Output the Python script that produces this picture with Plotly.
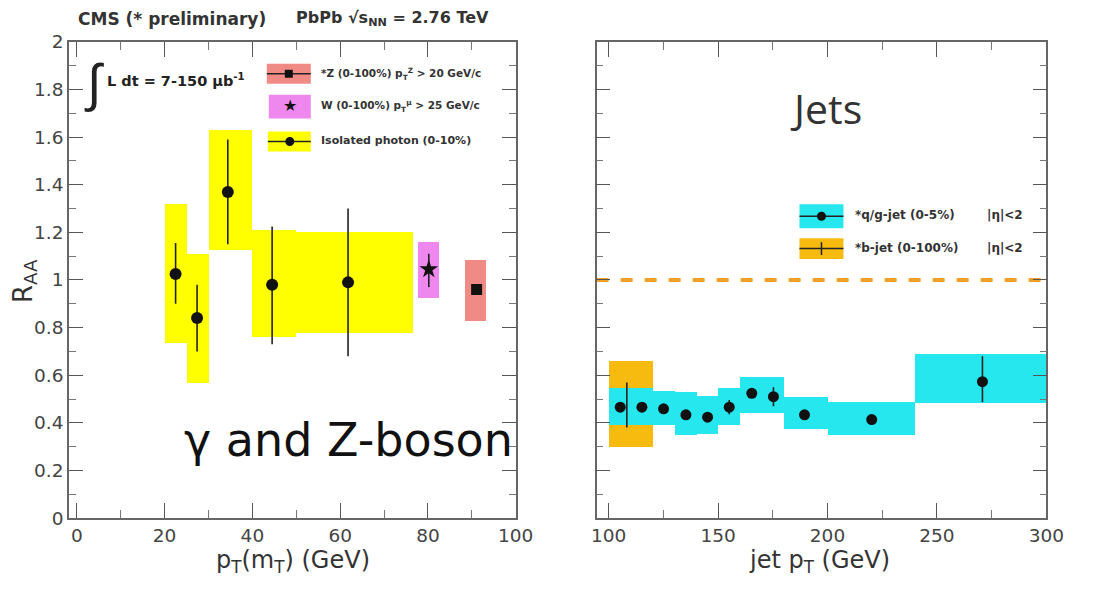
import plotly.graph_objects as go
import numpy as np

W, H = 1115, 590
# measured mapping from figure pixels to photographed pixels (p = A + S * f)
SX, AX = 0.98, 6.0
SY, AY = 0.968, 9.0

# ---------------- data: left panel ----------------
photon_x = [22.5, 27.4, 34.4, 44.5, 61.8]
photon_y = [1.025, 0.84, 1.37, 0.98, 0.99]
photon_err_up = [0.13, 0.14, 0.22, 0.245, 0.31]
photon_err_dn = [0.125, 0.14, 0.22, 0.25, 0.31]
photon_box_lo_x = [20, 25, 30, 40, 50]
photon_box_hi_x = [25, 30, 40, 50, 76.5]
photon_box_lo_y = [0.735, 0.57, 1.125, 0.76, 0.78]
photon_box_hi_y = [1.32, 1.11, 1.63, 1.21, 1.20]

w_x = [80.2]
w_y = [1.045]
w_err_up = [0.065]
w_err_dn = [0.075]
w_box_x = [77.7, 82.5]
w_box_y = [0.925, 1.16]

z_x = [91.1]
z_y = [0.96]
z_err_up = [0.02]
z_err_dn = [0.02]
z_box_x = [88.4, 93.2]
z_box_y = [0.83, 1.085]

# ---------------- data: right panel ----------------
qg_x = [105.3, 115.2, 125.1, 135.3, 145.2, 155.1, 165.4, 175.3, 189.5, 220.2, 270.8]
qg_y = [0.466, 0.466, 0.459, 0.434, 0.424, 0.466, 0.524, 0.51, 0.434, 0.414, 0.573]
qg_err_up = [0.0, 0.0, 0.0, 0.0, 0.0, 0.03, 0.0, 0.04, 0.0, 0.0, 0.107]
qg_err_dn = [0.0, 0.0, 0.0, 0.0, 0.0, 0.03, 0.0, 0.04, 0.0, 0.0, 0.086]
qg_box_lo_x = [100, 110, 120, 130, 140, 150, 160, 180, 200, 240]
qg_box_hi_x = [110, 120, 130, 140, 150, 160, 180, 200, 240, 300]
qg_box_lo_y = [0.39, 0.39, 0.39, 0.35, 0.355, 0.39, 0.44, 0.376, 0.35, 0.482]
qg_box_hi_y = [0.545, 0.545, 0.533, 0.53, 0.515, 0.545, 0.594, 0.51, 0.487, 0.69]

b_x = [108.3]
b_y = [0.47]
b_err_up = [0.10]
b_err_dn = [0.09]
b_box_x = [100, 120]
b_box_y = [0.30, 0.66]

ref_line_y = 1.0

left_xticks = [0, 20, 40, 60, 80, 100]
right_xticks = [100, 150, 200, 250, 300]
yticks = [0, 0.2, 0.4, 0.6, 0.8, 1, 1.2, 1.4, 1.6, 1.8, 2]
ytick_text = ["0", "0.2", "0.4", "0.6", "0.8", "1", "1.2", "1.4", "1.6", "1.8", "2"]

# ---------------- colours ----------------
YELLOW = "#ffff00"
MAGENTA = "#ee88ee"
SALMON = "#f08a84"
CYAN = "#26e6ee"
ORANGE = "#f7bb10"
DASH = "#f0a02a"
BLACK = "#111111"

SANS = "DejaVu Sans, Liberation Sans, Arial"

fig = go.Figure()


def boxes(xlo, xhi, ylo, yhi, color, xa, ya):
    xlo = np.array(xlo, float); xhi = np.array(xhi, float)
    ylo = np.array(ylo, float); yhi = np.array(yhi, float)
    fig.add_trace(go.Bar(
        x=(xlo + xhi) / 2, width=xhi - xlo, base=ylo, y=yhi - ylo,
        marker=dict(color=color, line=dict(width=0)),
        xaxis=xa, yaxis=ya, showlegend=False, hoverinfo="skip"))


boxes(photon_box_lo_x, photon_box_hi_x, photon_box_lo_y, photon_box_hi_y, YELLOW, "x", "y")
boxes([w_box_x[0]], [w_box_x[1]], [w_box_y[0]], [w_box_y[1]], MAGENTA, "x", "y")
boxes([z_box_x[0]], [z_box_x[1]], [z_box_y[0]], [z_box_y[1]], SALMON, "x", "y")
boxes([b_box_x[0]], [b_box_x[1]], [b_box_y[0]], [b_box_y[1]], ORANGE, "x2", "y2")
boxes(qg_box_lo_x, qg_box_hi_x, qg_box_lo_y, qg_box_hi_y, CYAN, "x2", "y2")

fig.add_trace(go.Scatter(x=[94.5, 300], y=[ref_line_y, ref_line_y], mode="lines",
                         line=dict(color=DASH, width=4, dash="dash"),
                         xaxis="x2", yaxis="y2", showlegend=False, hoverinfo="skip"))


def points(x, y, up, dn, symbol, size, xa, ya):
    fig.add_trace(go.Scatter(
        x=x, y=y, mode="markers",
        marker=dict(symbol=symbol, size=size, color=BLACK),
        error_y=dict(type="data", symmetric=False, array=up, arrayminus=dn,
                     color="#222222", thickness=1.6, width=0),
        xaxis=xa, yaxis=ya, showlegend=False, hoverinfo="skip"))


points(photon_x, photon_y, photon_err_up, photon_err_dn, "circle", 12, "x", "y")
points(w_x, w_y, w_err_up, w_err_dn, "star", 14, "x", "y")
points(z_x, z_y, z_err_up, z_err_dn, "square", 11, "x", "y")
points(b_x, b_y, b_err_up, b_err_dn, "line-ew", 1, "x2", "y2")
points(qg_x, qg_y, qg_err_up, qg_err_dn, "circle", 11, "x2", "y2")


def px_x(p):
    return ((p - AX) / SX) / W


def px_y(p):
    return 1 - ((p - AY) / SY) / H


ydom = [px_y(518), px_y(40)]
axis_common = dict(showline=True, linecolor="#666666", linewidth=1.5, mirror="allticks",
                   ticks="inside", tickcolor="#555555", tickwidth=1.3,
                   showgrid=False, zeroline=False,
                   tickfont=dict(family=SANS, size=18.5, color="#444444"))
xminor = dict(ticks="inside", ticklen=8, tickcolor="#777777")
yminor = dict(dtick=0.1, ticks="inside", ticklen=7, tickcolor="#777777")

fig.update_layout(
    width=W, height=H, margin=dict(l=0, r=0, t=0, b=0),
    paper_bgcolor="white", plot_bgcolor="white", barmode="overlay", bargap=0,
    xaxis=dict(domain=[px_x(70), px_x(517)], range=[-1.8, 100], anchor="y",
               tickvals=left_xticks, ticktext=[str(v) for v in left_xticks], ticklen=15,
               minor=dict(dtick=10, **xminor), **axis_common),
    yaxis=dict(domain=ydom, range=[0, 2], anchor="x",
               tickvals=yticks, ticktext=ytick_text, ticklen=14,
               minor=yminor, **axis_common),
    xaxis2=dict(domain=[px_x(598), px_x(1048)], range=[94.5, 300], anchor="y2",
                tickvals=right_xticks, ticktext=[str(v) for v in right_xticks], ticklen=15,
                minor=dict(dtick=25, **xminor), **axis_common),
    yaxis2=dict(domain=ydom, range=[0, 2], anchor="x2",
                tickvals=yticks, showticklabels=False, ticklen=14,
                minor=yminor, **axis_common),
)

ann = []
shapes = []


def text(px, py, s, size, color="#222222", family=SANS, xanchor="left",
         textangle=0, bold=False):
    if bold:
        s = "<b>" + s + "</b>"
    ann.append(dict(x=px_x(px), y=px_y(py), xref="paper", yref="paper", text=s,
                    showarrow=False, xanchor=xanchor, yanchor="middle",
                    textangle=textangle,
                    font=dict(size=size, color=color, family=family)))


text(77, 17, "CMS (* preliminary)", 17, "#333333", bold=True)
text(295, 17, "PbPb √s<sub>NN</sub> = 2.76 TeV", 16, "#333333", bold=True)

text(83, 82, "∫", 52, "#222222", family="Liberation Sans, Arial")
text(106, 78, "L dt = 7-150 μb<sup>-1</sup>", 14.5, "#222222", bold=True)


def legend_box(x0, x1, y0, y1, color):
    shapes.append(dict(type="rect", xref="paper", yref="paper",
                       x0=px_x(x0), x1=px_x(x1), y0=px_y(y1), y1=px_y(y0),
                       fillcolor=color, line=dict(width=0), layer="above"))
    ym = (y0 + y1) / 2
    shapes.append(dict(type="line", xref="paper", yref="paper",
                       x0=px_x(x0), x1=px_x(x1), y0=px_y(ym), y1=px_y(ym),
                       line=dict(color="#222222", width=1.5), layer="above"))


def legend_dot(cx, cy, r=4.5):
    shapes.append(dict(type="circle", xref="paper", yref="paper",
                       x0=px_x(cx - r), x1=px_x(cx + r), y0=px_y(cy + r), y1=px_y(cy - r),
                       fillcolor=BLACK, line=dict(width=0), layer="above"))


legend_box(268, 312, 62, 82, SALMON)
shapes.append(dict(type="rect", xref="paper", yref="paper",
                   x0=px_x(286), x1=px_x(294), y0=px_y(76), y1=px_y(68),
                   fillcolor=BLACK, line=dict(width=0), layer="above"))
text(320, 72, "*Z (0-100%) p<sub>T</sub><sup>Z</sup> > 20 GeV/c", 10.5, "#333333", bold=True)

shapes.append(dict(type="rect", xref="paper", yref="paper",
                   x0=px_x(270), x1=px_x(312), y0=px_y(117), y1=px_y(93),
                   fillcolor=MAGENTA, line=dict(width=0), layer="above"))
text(291, 104, "★", 16, BLACK, xanchor="center")
text(320, 104, "W (0-100%) p<sub>T</sub><sup>μ</sup> > 25 GeV/c", 10.5, "#333333", bold=True)

legend_box(269, 312, 130, 150, YELLOW)
legend_dot(291, 140)
text(320, 139, "Isolated photon (0-10%)", 11, "#333333", bold=True)

legend_box(801, 845, 203, 227, CYAN)
legend_dot(823, 215)
text(855, 214, "*q/g-jet (0-5%)", 12, "#333333", bold=True)
text(987, 214, "|η|<2", 12, "#333333", bold=True)
legend_box(801, 845, 237, 258, ORANGE)
shapes.append(dict(type="line", xref="paper", yref="paper",
                   x0=px_x(823), x1=px_x(823), y0=px_y(254), y1=px_y(241),
                   line=dict(color="#222222", width=1.5), layer="above"))
text(855, 247, "*b-jet (0-100%)", 12, "#333333", bold=True)
text(987, 247, "|η|<2", 12, "#333333", bold=True)

text(350, 440, "γ and Z-boson", 46, "#111111", xanchor="center")
text(828, 106, "Jets", 41, "#333333", family="Open Sans, Lato", xanchor="center")

text(294, 562, "p<sub>T</sub>(m<sub>T</sub>) (GeV)", 24, "#333333", xanchor="center")
text(821, 562, "jet p<sub>T</sub> (GeV)", 24, "#333333", xanchor="center")
text(26, 280, "R<sub>AA</sub>", 26, "#333333", xanchor="center", textangle=-90)

fig.update_layout(annotations=ann, shapes=shapes)
fig.write_html("out.html")
